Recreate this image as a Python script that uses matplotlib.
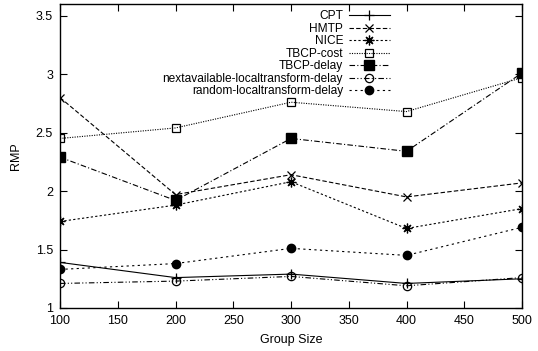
import matplotlib.pyplot as plt

plt.rcParams["font.family"] = ["Liberation Sans", "DejaVu Sans"]

group_size = [100, 200, 300, 400, 500]

cpt = [1.39, 1.26, 1.29, 1.21, 1.25]
hmtp = [2.80, 1.97, 2.14, 1.95, 2.07]
nice = [1.74, 1.88, 2.08, 1.68, 1.85]
tbcp_cost = [2.45, 2.54, 2.76, 2.68, 2.97]
tbcp_delay = [2.29, 1.92, 2.45, 2.34, 3.01]
next_avail = [1.21, 1.23, 1.27, 1.19, 1.26]
random_lt = [1.33, 1.38, 1.51, 1.45, 1.69]

fig = plt.figure(figsize=(5.38, 3.51), dpi=100)
ax = fig.add_axes([60 / 538, 1 - 308 / 351, 462 / 538, 304 / 351])

lw = 0.8
ax.plot(group_size, cpt, color="black", lw=lw, linestyle="-",
        marker="+", ms=7, mew=0.9, label="CPT")
ax.plot(group_size, hmtp, color="black", lw=lw, linestyle=(0, (4, 2)),
        marker="x", ms=6, mew=0.9, label="HMTP")
ax.plot(group_size, nice, color="black", lw=lw, linestyle=(0, (2, 2)),
        marker=(8, 2, 0), ms=7, mew=0.9, label="NICE")
ax.plot(group_size, tbcp_cost, color="black", lw=lw, linestyle=(0, (1, 1.2)),
        marker="s", ms=6, mfc="none", mew=0.9, label="TBCP-cost")
ax.plot(group_size, tbcp_delay, color="black", lw=lw, linestyle=(0, (5, 2, 1, 2)),
        marker="s", ms=6.5, label="TBCP-delay")
ax.plot(group_size, next_avail, color="black", lw=lw, linestyle=(0, (5, 2, 1, 2, 1, 2)),
        marker="o", ms=6, mfc="none", mew=0.9, label="nextavailable-localtransform-delay")
ax.plot(group_size, random_lt, color="black", lw=lw, linestyle=(0, (2, 3)),
        marker="o", ms=6, label="random-localtransform-delay")

ax.set_xlim(100, 500)
ax.set_ylim(1, 3.6)
ax.set_xticks([100, 150, 200, 250, 300, 350, 400, 450, 500])
ax.set_yticks([1, 1.5, 2, 2.5, 3, 3.5])
ax.set_yticklabels(["1", "1.5", "2", "2.5", "3", "3.5"])
ax.tick_params(direction="in", top=True, right=True, length=5, width=0.8,
               labelsize=9, pad=5)
for s in ax.spines.values():
    s.set_linewidth(1.0)

ax.set_xlabel("Group Size", fontsize=9, labelpad=5)
ax.set_ylabel("RMP", fontsize=9, labelpad=10)

ax.legend(loc="upper right", bbox_to_anchor=(398 / 538, 1 - 2 / 351),
          bbox_transform=fig.transFigure, frameon=False, markerfirst=False,
          fontsize=8.6, handlelength=3.4, handletextpad=0.5, labelspacing=0.04,
          borderpad=0.2)

plt.savefig("out.png", dpi=100)
